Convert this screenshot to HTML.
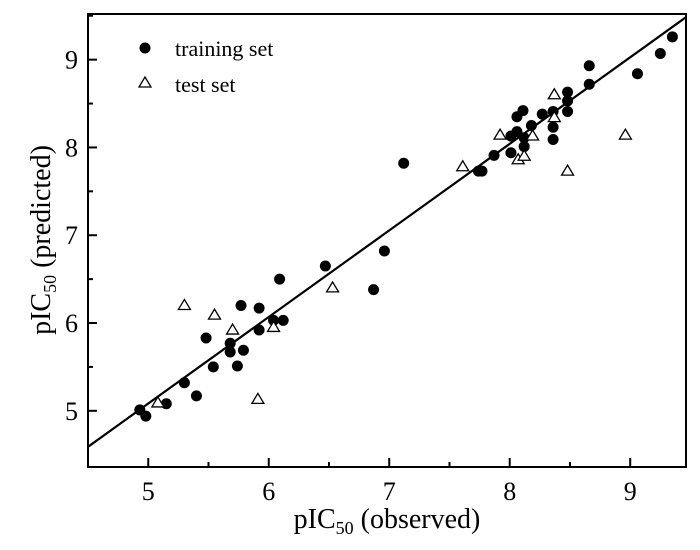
<!DOCTYPE html>
<html><head><meta charset="utf-8"><style>
body{margin:0;background:#fff}
svg{display:block;font-family:"Liberation Serif",serif}
</style></head><body>
<svg id="chart" width="700" height="550">
<rect x="88" y="14" width="598" height="453" fill="none" stroke="#000" stroke-width="2"/>
<g id="ticks"></g><g id="line"></g><g id="pts"></g>
<g>
<circle cx="145" cy="48" r="5.5" fill="#000"/>
<text x="175" y="56" font-size="22">training set</text>
<path d="M145 77 L151 87 L139 87 Z" fill="#fff" stroke="#000" stroke-width="1.3"/>
<text x="175" y="92" font-size="22">test set</text>
</g>
<text x="387" y="528" text-anchor="middle" font-size="28">pIC<tspan font-size="18" dy="6">50</tspan><tspan dy="-6"> (observed)</tspan></text>
<text transform="translate(50,240) rotate(-90)" text-anchor="middle" font-size="28">pIC<tspan font-size="18" dy="6">50</tspan><tspan dy="-6"> (predicted)</tspan></text>
</svg>
<script>
const xTicks=[5,6,7,8,9];
const yTicks=[5,6,7,8,9];
const trainObs=[4.93,4.98,5.15,5.30,5.40,5.48,5.54,5.68,5.68,5.74,5.77,5.79,5.92,5.92,6.04,6.12,6.09,6.47,6.96,6.87,7.12,7.74,7.77,7.87,8.01,8.01,8.06,8.12,8.12,8.06,8.11,8.18,8.27,8.36,8.36,8.36,8.48,8.48,8.48,8.66,8.66,9.06,9.25,9.35];
const trainPred=[5.01,4.94,5.08,5.32,5.17,5.83,5.50,5.77,5.67,5.51,6.20,5.69,6.17,5.92,6.03,6.03,6.50,6.65,6.82,6.38,7.82,7.73,7.73,7.91,7.94,8.13,8.18,8.01,8.11,8.35,8.42,8.25,8.38,8.41,8.23,8.09,8.63,8.53,8.41,8.93,8.72,8.84,9.07,9.26];
const testObs=[5.08,5.30,5.55,5.70,5.91,6.04,6.53,7.61,7.92,8.07,8.12,8.19,8.37,8.37,8.48,8.96];
const testPred=[5.09,6.20,6.09,5.92,5.13,5.95,6.40,7.78,8.14,7.86,7.90,8.13,8.60,8.34,7.73,8.14];
const fitSlope=0.986, fitIntercept=0.153;
const X0=4.5,X1=9.463,Y0=4.36,Y1=9.52,L=88,R=686,T=14,B=467;
const sx=v=>L+(v-X0)/(X1-X0)*(R-L);
const sy=v=>B-(v-Y0)/(Y1-Y0)*(B-T);
const NS='http://www.w3.org/2000/svg';
function mk(tag,at,parent){const e=document.createElementNS(NS,tag);for(const k in at)e.setAttribute(k,at[k]);parent.appendChild(e);return e;}
const tg=document.getElementById('ticks');
xTicks.forEach(v=>{
 const l=mk('line',{x1:sx(v),x2:sx(v),y1:B,y2:B-9,stroke:'#000','stroke-width':2},tg);
 
 
 if(v+0.5<X1){
 const m=mk('line',{x1:sx(v+0.5),x2:sx(v+0.5),y1:B,y2:B-5,stroke:'#000','stroke-width':2},tg);
 
 
 }
 const t=mk('text',{x:sx(v),y:B+33,'text-anchor':'middle','font-size':26},tg);t.textContent=v;
 
 
});
yTicks.forEach(v=>{
 const l=mk('line',{x1:L,x2:L+9,y1:sy(v),y2:sy(v),stroke:'#000','stroke-width':2},tg);
 
 
 if(v+0.5<Y1){
 const m=mk('line',{x1:L,x2:L+5,y1:sy(v+0.5),y2:sy(v+0.5),stroke:'#000','stroke-width':2},tg);
 
 
 }
 const t=mk('text',{x:L-10,y:sy(v)+9,'text-anchor':'end','font-size':26},tg);t.textContent=v;
 
 
});
const lg=document.getElementById('line');
const fl=mk('line',{x1:sx(X0),y1:sy(fitIntercept+fitSlope*X0),x2:sx(X1),y2:sy(fitIntercept+fitSlope*X1),stroke:'#000','stroke-width':2.2},lg);


const pg=document.getElementById('pts');
trainObs.forEach((o,i)=>{
 const c=mk('circle',{cx:sx(o),cy:sy(trainPred[i]),r:5.5,fill:'#000'},pg);
 
 
});
testObs.forEach((o,i)=>{
 const x=sx(o),y=sy(testPred[i]);
 const p=mk('path',{d:`M${x} ${y-6} L${x+6} ${y+4} L${x-6} ${y+4} Z`,fill:'#fff',stroke:'#000','stroke-width':1.3},pg);
 
 
});
</script>
</body></html>
